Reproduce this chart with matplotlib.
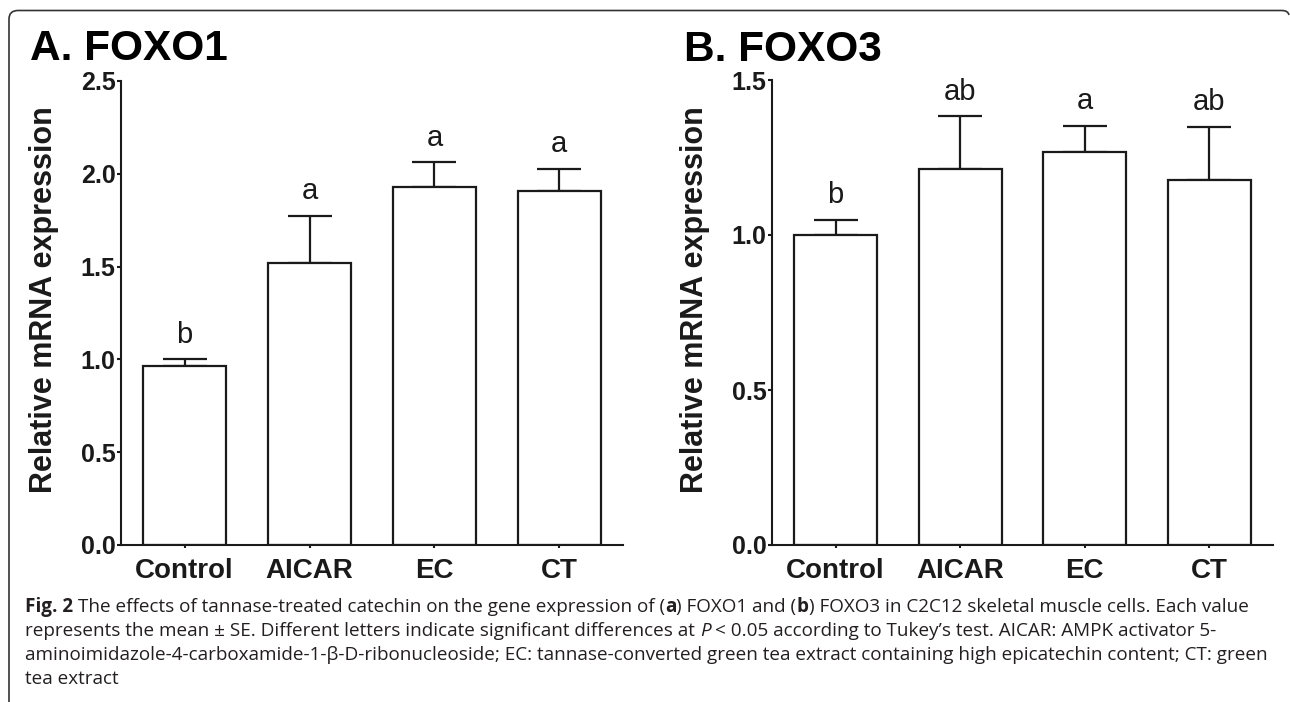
import matplotlib
matplotlib.use("Agg")
import matplotlib.pyplot as plt
from matplotlib.path import Path
from matplotlib.patches import PathPatch
import numpy as np

# ---------------- data ----------------
categories = ["Control", "AICAR", "EC", "CT"]
foxo1_mean = [0.964, 1.519, 1.930, 1.906]
foxo1_se = [0.037, 0.255, 0.131, 0.122]
foxo1_letters = ["b", "a", "a", "a"]
foxo1_ticks = [0.0, 0.5, 1.0, 1.5, 2.0, 2.5]
foxo3_mean = [1.000, 1.213, 1.268, 1.176]
foxo3_se = [0.049, 0.170, 0.084, 0.173]
foxo3_letters = ["b", "ab", "a", "ab"]
foxo3_ticks = [0.0, 0.5, 1.0, 1.5]
ylabel_text = "Relative mRNA expression"

W, H = 1290, 702
DPI = 100
fig = plt.figure(figsize=(W / DPI, H / DPI), dpi=DPI)
fig.patch.set_facecolor("white")
SANS = "Liberation Sans"
INK = "#1a1a1a"


def px_rect(x0, y_top, x1, y_bot):
    return [x0 / W, 1 - y_bot / H, (x1 - x0) / W, (y_bot - y_top) / H]


def panel(rect, means, ses, letters, ticks, title, title_xy, ylabel_xy):
    ax = fig.add_axes(rect)
    x = np.arange(len(categories))
    ax.errorbar(x, means, yerr=[np.zeros(len(ses)), ses], fmt="none",
                ecolor=INK, elinewidth=1.6, capsize=15.5, capthick=1.6, zorder=1)
    ax.bar(x, means, width=0.665, color="white", edgecolor=INK,
           linewidth=1.6, zorder=2)
    for xi, m, s, lt in zip(x, means, ses, letters):
        ax.annotate(lt, (xi, m + s), xytext=(0, 12), textcoords="offset points",
                    ha="center", va="baseline", fontsize=21, family=SANS,
                    color=INK, annotation_clip=False)
    ax.set_xlim(-0.51, 3.51)
    ax.set_ylim(ticks[0], ticks[-1])
    ax.set_yticks(ticks)
    ax.set_yticklabels([f"{t:.1f}" for t in ticks])
    ax.set_xticks(x)
    ax.set_xticklabels(categories)
    for sp in ["top", "right"]:
        ax.spines[sp].set_visible(False)
    for sp in ["left", "bottom"]:
        ax.spines[sp].set_linewidth(1.5)
        ax.spines[sp].set_color(INK)
    ax.tick_params(axis="y", direction="out", length=3, width=1.5, pad=1,
                   labelsize=18, colors=INK)
    ax.tick_params(axis="x", direction="out", length=2.5, width=1.5, pad=7,
                   labelsize=20, colors=INK)
    for lab in ax.get_yticklabels() + ax.get_xticklabels():
        lab.set_fontweight("bold")
        lab.set_family(SANS)
    fig.text(title_xy[0] / W, 1 - title_xy[1] / H, title, fontsize=30.5,
             fontweight="bold", family=SANS, ha="left", va="baseline", color="black")
    fig.text(ylabel_xy[0] / W, 1 - ylabel_xy[1] / H, ylabel_text, fontsize=22,
             fontweight="bold", family=SANS, rotation=90, ha="center",
             va="center", color=INK)
    return ax


panel(px_rect(121, 81, 623, 545), foxo1_mean, foxo1_se, foxo1_letters,
      foxo1_ticks, "A. FOXO1", (30, 60), (44, 300))
panel(px_rect(772, 80, 1273, 545), foxo3_mean, foxo3_se, foxo3_letters,
      foxo3_ticks, "B. FOXO3", (684, 61), (695, 300))

# ---------------- frame (rounded top corners) ----------------
def P(x, y):
    return (x / W, 1 - y / H)

verts = [P(9, 702), P(9, 19), P(9, 10.5), P(18, 10.5), P(1282, 10.5),
         P(1288, 10.5), P(1289, 15)]
codes = [Path.MOVETO, Path.LINETO, Path.CURVE3, Path.CURVE3, Path.LINETO,
         Path.CURVE3, Path.CURVE3]
fig.add_artist(PathPatch(Path(verts, codes), transform=fig.transFigure,
                         fill=False, edgecolor="#333333", linewidth=1.2))

# ---------------- caption ----------------
CAP_FONT = "Open Sans"
CAP_SIZE = 13.55
CAP_COLOR = "#231f20"
renderer = fig.canvas.get_renderer()


def text_w(s, **kw):
    t = fig.text(0, 0, s, fontsize=CAP_SIZE, family=CAP_FONT, **kw)
    w = t.get_window_extent(renderer=renderer).width
    t.remove()
    return w


space_w = text_w("n n") - text_w("nn")

caption_lines = [
    [("Fig. 2", "bold", "normal", 0),
     ("The effects of tannase-treated catechin on the gene expression of (", "normal", "normal", 1),
     ("a", "bold", "normal", 0),
     (") FOXO1 and (", "normal", "normal", 0),
     ("b", "bold", "normal", 0),
     (") FOXO3 in C2C12 skeletal muscle cells. Each value", "normal", "normal", 0)],
    [("represents the mean \u00b1 SE. Different letters indicate significant differences at", "normal", "normal", 0),
     ("P", "normal", "italic", 1),
     ("< 0.05 according to Tukey\u2019s test. AICAR: AMPK activator 5-", "normal", "normal", 1)],
    [("aminoimidazole-4-carboxamide-1-\u03b2-D-ribonucleoside; EC: tannase-converted green tea extract containing high epicatechin content; CT: green", "normal", "normal", 0)],
    [("tea extract", "normal", "normal", 0)],
]
caption_baselines = [612, 636, 660, 684]

for pieces, yb in zip(caption_lines, caption_baselines):
    x = 25.0
    for txt, wt, st, gap in pieces:
        x += gap * space_w
        t = fig.text(x / W, 1 - yb / H, txt, fontsize=CAP_SIZE, family=CAP_FONT,
                     fontweight=wt, fontstyle=st, color=CAP_COLOR,
                     ha="left", va="baseline")
        x += t.get_window_extent(renderer=renderer).width

fig.savefig("out.png", dpi=DPI, facecolor="white")
